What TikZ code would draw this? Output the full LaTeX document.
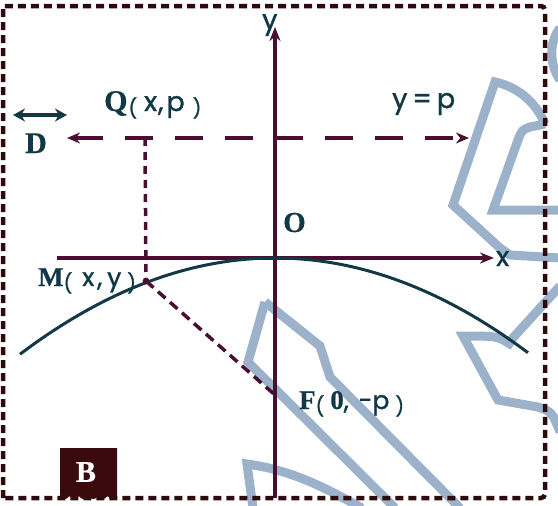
\documentclass[tikz,border=0pt]{standalone}
\usepackage{fontspec}
\setmainfont{Liberation Serif}
\newfontfamily\lsans[FakeBold=1.4]{Poppins}
\newfontfamily\bserif[FakeBold=0.6]{Liberation Serif Bold}
\usetikzlibrary{arrows.meta}
\definecolor{axisc}{HTML}{4B0E33}
\definecolor{txtc}{HTML}{123845}
\definecolor{framec}{HTML}{2E0A0E}
\definecolor{wmc}{HTML}{9CB2CB}
\definecolor{boxc}{HTML}{3A0A0C}
\newcommand{\fs}[1]{\fontsize{#1}{#1}\selectfont}
\newcommand{\lowpar}[1]{\raisebox{-4pt}{\lsans\fs{19}#1}}
\begin{document}
\begin{tikzpicture}[x=1pt,y=-1pt,
  wmark/.style={draw=wmc, line width=9pt, line join=miter},
  tipm/.style={-{Stealth[length=14pt,width=11pt]}},
  axisline/.style={draw=axisc, line width=3.2pt, tipm},
  directrix/.style={draw=axisc, line width=4pt, dash pattern=on 28pt off 22pt,
     {Stealth[length=13pt,width=11pt]}-{Stealth[length=13pt,width=11pt]}},
  dotline/.style={draw=axisc, line width=3.5pt, dash pattern=on 8pt off 6pt},
  dotline2/.style={draw=axisc, line width=3.5pt, dash pattern=on 10pt off 6pt},
  lbl/.style={inner sep=0pt, text=txtc, anchor=base west},
  frameline/.style={draw=framec, line width=4.5pt, dash pattern=on 8pt off 5pt}]
\useasboundingbox (0,0) rectangle (558,506);

% watermark
\draw[wmark] (545,124) .. controls (535,100) and (515,86) .. (495,82) -- (453,205) -- (500,248) -- (510,255) -- (560,258);
\draw[wmark] (545,124) -- (530,127) .. controls (522,130) .. (518,140) -- (493,210) -- (560,210);
\draw[wmark] (560,28) .. controls (549,42) and (549,64) .. (560,80);
\draw[wmark] (560,286) -- (511,340);
\draw[wmark] (513,346) .. controls (498,336) .. (463,336) -- (498,400) -- (538,407) .. controls (552,412) .. (560,432);
\draw[wmark] (265,302) -- (320,346) -- (330,377) -- (460,508);
\draw[wmark] (265,302) -- (248,362) -- (395,508);
\draw[wmark] (253,508) -- (247,464) .. controls (290,470) and (320,485) .. (362,508);

% coordinates
\coordinate (O) at (275,258);
\coordinate (ytop) at (275,27);
\coordinate (ybot) at (275,498);
\coordinate (xl) at (57,258);
\coordinate (xr) at (494,258);
\coordinate (Dl) at (67,138);
\coordinate (Dr) at (469,138);
\coordinate (Qp) at (145,138);
\coordinate (Mp) at (146,281);
\coordinate (Fp) at (275,395);
\coordinate (Da) at (13,115);
\coordinate (Db) at (67,115);

% axes
\draw[axisline] (ybot) -- (ytop);
\draw[axisline] (xl) -- (xr);
% parabola
\draw[txtc, line width=3pt] plot[domain=20:528, samples=80, smooth]
  (\x, {258 + 14.8*((\x-275)/100)^2});
% directrix and dashed segments
\draw[directrix] (Dl) -- (Dr);
\draw[dotline] (Qp) -- (Mp);
\draw[dotline2] (Mp) -- (Fp);
\fill[axisc] (Mp) circle (3.4pt);
% D arrow
\draw[txtc, line width=3.4pt, {Stealth[length=12pt,width=13pt]}-{Stealth[length=12pt,width=13pt]}] (Da) -- (Db);

% labels
\node[lbl] (ylab) at (262,29) {\lsans\fs{27}y};
\node[lbl] (xlab) at (496,266) {\lsans\fs{27}x};
\node[lbl] (Qlab) at (104,111) {{\bserif\fs{30}Q}\hspace{1pt}\lowpar{(}\hspace{7pt}{\lsans\fs{27}x\hspace{1pt},\hspace{3pt}p}\hspace{8pt}\lowpar{)}};
\node[lbl] (Dlab) at (25,153) {\bserif\fs{30}D};
\node[lbl] (Olab) at (283,232) {\bserif\fs{29}O};
\node[lbl] (yplab) at (392,108) {\lsans\fs{27}y\hspace{5pt}=\hspace{5pt}p};
\node[lbl] (Mlab) at (38,286) {{\bserif\fs{27}M}\lowpar{(}\hspace{10pt}{\lsans\fs{25}x\hspace{3pt},\hspace{5pt}y}\hspace{6pt}\lowpar{)}};
\node[lbl] (Flab) at (299,409) {{\bserif\fs{27}F}\lowpar{(}\hspace{6pt}{\bserif\fs{27}0}{\lsans\fs{25},\hspace{10pt}-p}\hspace{6pt}\lowpar{)}};

% frame
\draw[frameline] (3,498) -- (3,6) -- (541,6) to[out=0,in=90] (545,10) -- (545,494) to[out=-90,in=0] (541,498) -- cycle;

% B box
\fill[boxc] (60,448) -- (117,448) -- (117,496)
  .. controls (115,500) and (110,500) .. (107.5,496)
  .. controls (105,500) and (100,500) .. (98,496)
  .. controls (96,500) and (91,500) .. (88.5,496)
  .. controls (86,500) and (81,500) .. (79,496)
  .. controls (77,500) and (72,500) .. (69.5,496)
  .. controls (67,500) and (62,500) .. (60,496) -- cycle;
\node[inner sep=0pt, text=white] (Blab) at (86,472) {\bserif\fs{30}B};
\end{tikzpicture}
\end{document}
